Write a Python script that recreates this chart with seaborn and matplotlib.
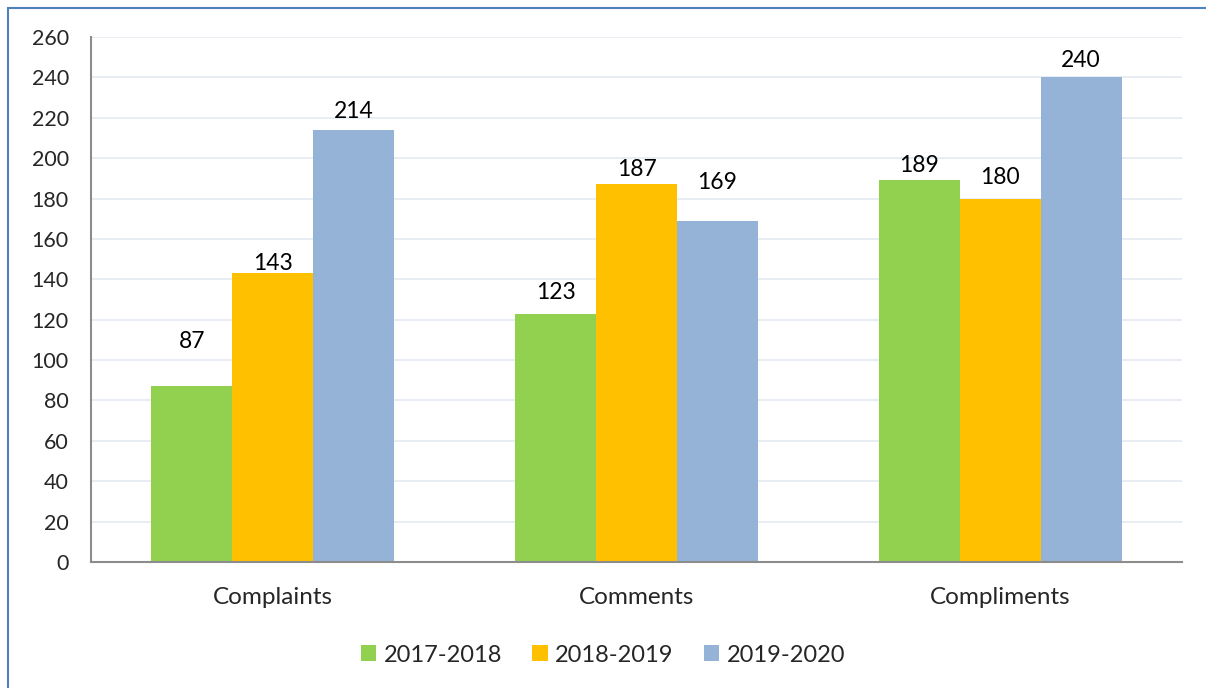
import matplotlib
matplotlib.use("Agg")
import matplotlib.pyplot as plt
import seaborn as sns
import pandas as pd
from matplotlib.patches import Rectangle

categories = ["Complaints", "Comments", "Compliments"]
periods = ["2017-2018", "2018-2019", "2019-2020"]
values_2017 = [87, 123, 189]
values_2018 = [143, 187, 180]
values_2019 = [214, 169, 240]
colors = ["#92D050", "#FFC000", "#95B3D7"]
y_ticks = list(range(0, 261, 20))

# label offsets (points above bar) mimicking the reference's placement
label_pad = {
    "2017-2018": [24.7, 7.4, 3.1],
    "2018-2019": [-0.9, 3.5, 7.4],
    "2019-2020": [5.6, 19.7, 4.9],
}

rows = []
for p, vals in zip(periods, [values_2017, values_2018, values_2019]):
    for c, v in zip(categories, vals):
        rows.append({"category": c, "period": p, "value": v})
df = pd.DataFrame(rows)

sns.set_style("white")
plt.rcParams['font.family'] = ['Lato', 'DejaVu Sans']

fig = plt.figure(figsize=(12.06, 6.88), dpi=100)
ax = fig.add_axes([91/1206, 1-562/688, (1182-91)/1206, (562-37)/688])

sns.barplot(data=df, x="category", y="value", hue="period", order=categories,
            hue_order=periods, palette=colors, width=0.668, gap=0, ax=ax,
            saturation=1, edgecolor="none", linewidth=0, errorbar=None)

for cont, p in zip(ax.containers, periods):
    for bar, pad in zip(cont.patches, label_pad[p]):
        ax.annotate(f"{bar.get_height():.0f}",
                    (bar.get_x() + bar.get_width() / 2, bar.get_height()),
                    xytext=(0, pad), textcoords="offset points",
                    ha="center", va="bottom", fontsize=16.5, color="#000000")

ax.set_ylim(0, 260)
ax.set_xlim(-0.5, 2.5)
ax.set_yticks(y_ticks)
ax.set_yticklabels([str(t) for t in y_ticks], fontsize=15.5)
ax.yaxis.grid(True, color="#E4EAF2", linewidth=1.2)
ax.set_axisbelow(True)
ax.set_xlabel("")
ax.set_ylabel("")
ax.tick_params(axis="x", which="major", length=0, pad=18, labelsize=17.5)
ax.set_xticks([-0.5, 0.5, 1.5, 2.5], minor=True)
ax.tick_params(axis="x", which="minor", length=8, width=1.5, color="#8C8C8C", direction="out")
ax.tick_params(axis="y", length=8, width=1.5, color="#8C8C8C", direction="out", pad=8)
for s in ["top", "right"]:
    ax.spines[s].set_visible(False)
for s in ["left", "bottom"]:
    ax.spines[s].set_color("#8C8C8C")
    ax.spines[s].set_linewidth(1.5)

handles, labels = ax.get_legend_handles_labels()
ax.legend(handles, labels, loc="center", bbox_to_anchor=(0.5, (688-655)/688),
          bbox_transform=fig.transFigure, ncol=3, frameon=False, fontsize=17,
          handlelength=0.65, handleheight=0.65, handletextpad=0.3, columnspacing=1.3)

fig.patches.append(Rectangle((8/1206, -0.1), 1.2, 1.1 - 8/688, transform=fig.transFigure,
                             fill=False, edgecolor="#4F81BD", linewidth=1.5))

fig.savefig("out.png", dpi=100)
